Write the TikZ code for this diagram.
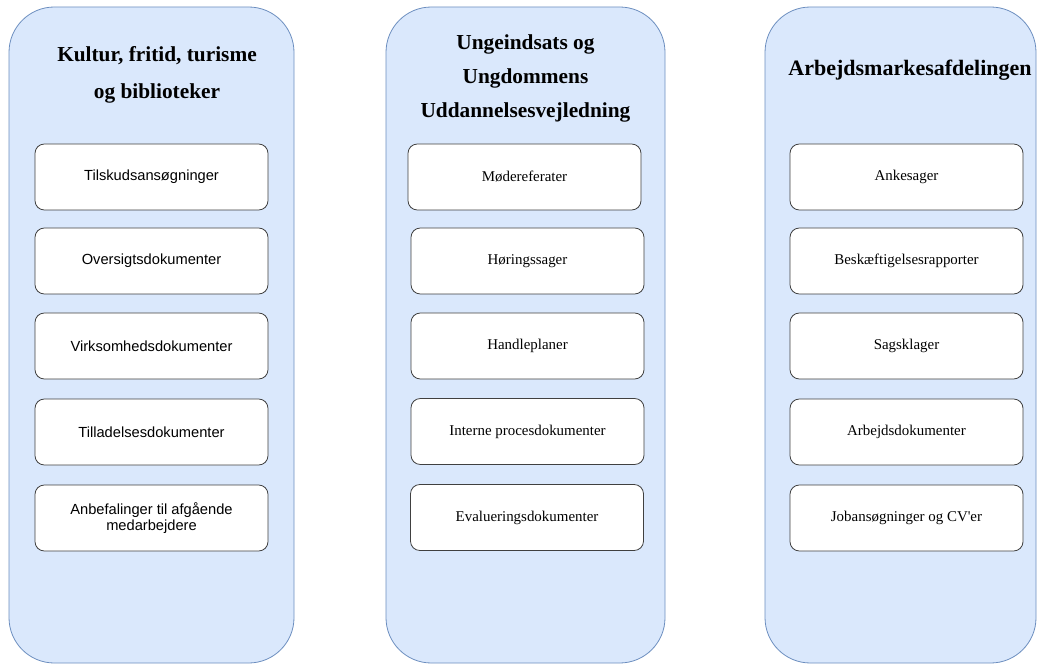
\documentclass[tikz,border=0pt]{standalone}
\usepackage{fontspec}
\setmainfont{Liberation Serif}
\newfontfamily\timesfont{Liberation Serif}
\newfontfamily\arialfont{Liberation Sans}
\usetikzlibrary{positioning}

\definecolor{panelfill}{HTML}{DAE8FC}
\definecolor{panelline}{HTML}{6C8EBF}

\tikzset{
  panel/.style={draw=panelline, fill=panelfill, rounded corners=34pt,
    minimum height=492pt, line width=0.6pt},
  title/.style={font=\bfseries\fontsize{16}{27.75}\selectfont, align=center},
  doc/.style={draw=black!75, fill=white, rounded corners=7pt,
    minimum width=174.75pt, minimum height=49.5pt, line width=0.6pt,
    align=center, font=\timesfont\fontsize{11.2}{13}\selectfont},
  docsans/.style={doc, font=\arialfont\fontsize{11}{12.5}\selectfont}
}

\begin{document}
\begin{tikzpicture}[x=0.75pt, y=-0.75pt]
\useasboundingbox (0,0) rectangle (1041,666);

% panels
\node[panel, minimum width=213.75pt] (kultur) at (151.5,335) {};
\node[panel, minimum width=209.25pt] (unge) at (525.5,335) {};
\node[panel, minimum width=203.25pt] (arbejd) at (900.5,335) {};

\node[title] (kulturtitle) at (157,75) {Kultur, fritid, turisme\\og biblioteker};
\node[title, font=\bfseries\fontsize{16}{25.5}\selectfont] (ungetitle) at (525.5,78.5) {Ungeindsats og\\Ungdommens\\Uddannelsesvejledning};
\node[title, font=\bfseries\fontsize{16.5}{25}\selectfont] (arbejdtitle) at (910,70) {Arbejdsmarkesafdelingen};

% left column
\node[docsans] (k1) at (151.5,177) {Tilskudsansøgninger};
\node[docsans] (k2) at (151.5,261) {Oversigtsdokumenter};
\node[docsans] (k3) at (151.5,346) {Virksomhedsdokumenter};
\node[docsans] (k4) at (151.5,432) {Tilladelsesdokumenter};
\node[docsans] (k5) at (151.5,518) {Anbefalinger til afgående\\medarbejdere};

% middle column
\node[doc] (u1) at (524.5,177) {Mødereferater};
\node[doc] (u2) at (527.5,261) {Høringssager};
\node[doc] (u3) at (527.5,346) {Handleplaner};
\node[doc] (u4) at (527.5,431.5) {Interne procesdokumenter};
\node[doc] (u5) at (527,517.5) {Evalueringsdokumenter};

% right column
\node[doc] (a1) at (906.5,177) {Ankesager};
\node[doc] (a2) at (906.5,261) {Beskæftigelsesrapporter};
\node[doc] (a3) at (906.5,346) {Sagsklager};
\node[doc] (a4) at (906.5,432) {Arbejdsdokumenter};
\node[doc] (a5) at (906.5,518) {Jobansøgninger og CV'er};
\end{tikzpicture}
\end{document}
